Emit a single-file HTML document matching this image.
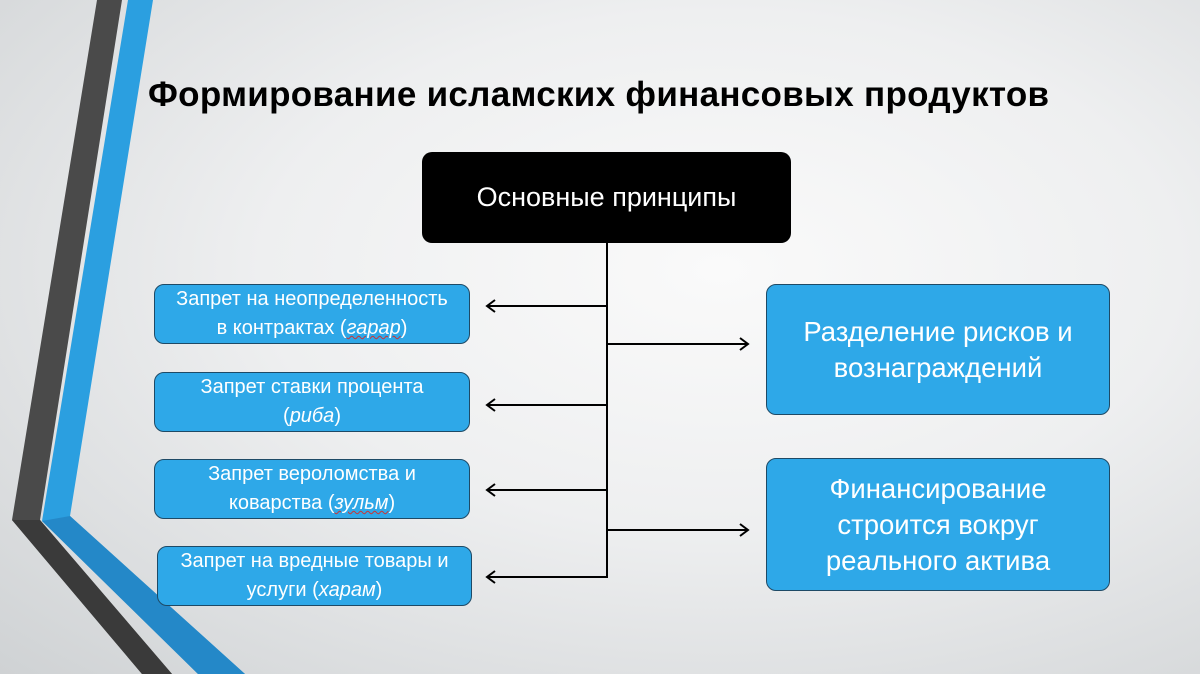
<!DOCTYPE html>
<html><head><meta charset="utf-8"><style>
body{margin:0;width:1200px;height:674px;overflow:hidden;position:relative;
background:radial-gradient(ellipse at 60% 40%,#fafafa 0%,#eeeff0 45%,#cfd2d4 100%);
font-family:"Liberation Sans","DejaVu Sans",sans-serif;}
.t{position:absolute;left:148px;top:75px;font-size:35px;font-weight:bold;color:#000;white-space:nowrap;letter-spacing:0.3px}
.b{position:absolute;box-sizing:border-box;background:#2ea8e8;border:1.5px solid #1e4a66;border-radius:10px;color:#fff;
display:flex;align-items:center;justify-content:center;text-align:center;}
.s{font-size:20px;line-height:29px}
.l{font-size:27.5px;line-height:36px}
.top{position:absolute;left:422px;top:152px;width:369px;height:91px;background:#000;border-radius:10px;color:#fff;
font-size:27px;display:flex;align-items:center;justify-content:center}
i u{text-decoration:underline wavy #c33;text-decoration-thickness:1px}
</style></head><body>
<svg width="1200" height="674" style="position:absolute;left:0;top:0">
<polygon points="97,0 122,0 40,520 172,674 142,674 12,520" fill="#4a4a4a"/>
<polygon points="128,0 153,0 70,516 245,674 198,674 42,521" fill="#2b9fe0"/>
<polygon points="42,521 70,516 245,674 198,674" fill="#2488c8"/>
<polygon points="12,520 40,520 172,674 142,674" fill="#3a3a3a"/>
<g stroke="#000" stroke-width="2" fill="none">
<line x1="607" y1="243" x2="607" y2="578"/>
<line x1="607" y1="306" x2="487" y2="306"/>
<line x1="607" y1="405" x2="487" y2="405"/>
<line x1="607" y1="490" x2="487" y2="490"/>
<line x1="607" y1="577" x2="487" y2="577"/>
<line x1="607" y1="344" x2="748" y2="344"/>
<line x1="607" y1="530" x2="748" y2="530"/>
<polyline points="495,300 487,306 495,312"/>
<polyline points="495,399 487,405 495,411"/>
<polyline points="495,484 487,490 495,496"/>
<polyline points="495,571 487,577 495,583"/>
<polyline points="740,338 748,344 740,350"/>
<polyline points="740,524 748,530 740,536"/>
</g>
</svg>
<div class="t">Формирование исламских финансовых продуктов</div>
<div class="top"><span>Основные принципы</span></div>
<div class="b s" style="left:154px;top:284px;width:316px;height:60px"><span>Запрет на неопределенность<br>в контрактах (<i><u>гарар</u></i>)</span></div>
<div class="b s" style="left:154px;top:372px;width:316px;height:60px"><span>Запрет ставки процента<br>(<i>риба</i>)</span></div>
<div class="b s" style="left:154px;top:459px;width:316px;height:60px"><span>Запрет вероломства и<br>коварства (<i><u>зульм</u></i>)</span></div>
<div class="b s" style="left:157px;top:546px;width:315px;height:60px"><span>Запрет на вредные товары и<br>услуги (<i>харам</i>)</span></div>
<div class="b l" style="left:766px;top:284px;width:344px;height:131px"><span>Разделение рисков и<br>вознаграждений</span></div>
<div class="b l" style="left:766px;top:458px;width:344px;height:133px"><span>Финансирование<br>строится вокруг<br>реального актива</span></div>
</body></html>
